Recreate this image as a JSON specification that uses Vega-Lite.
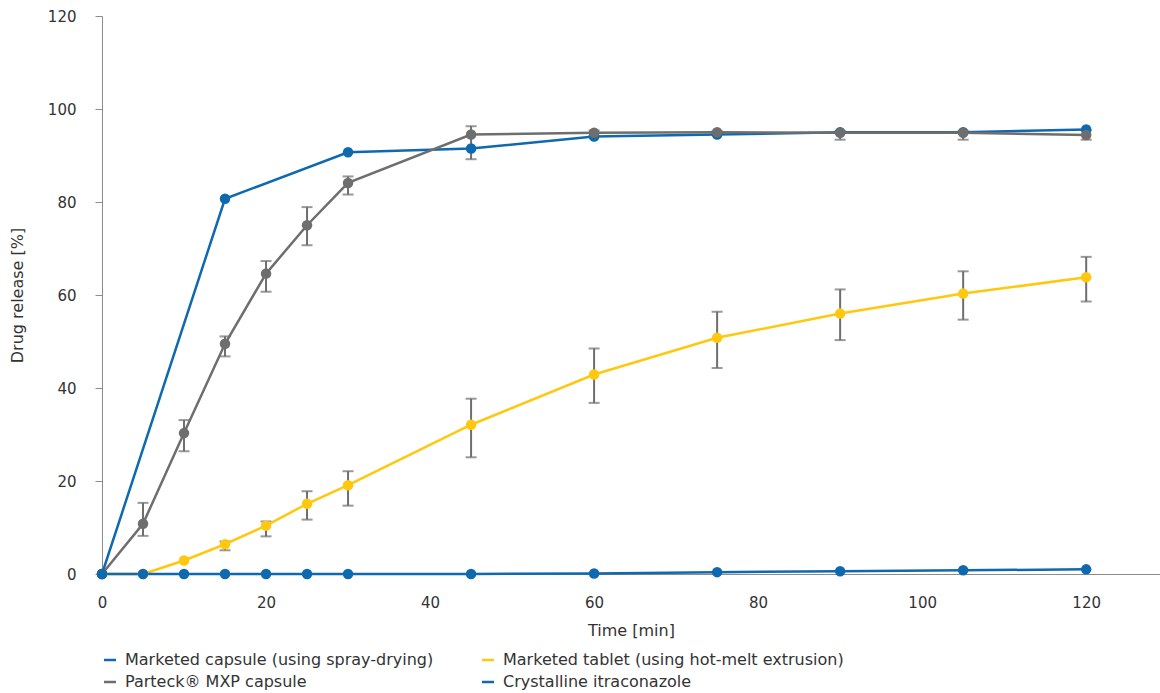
{
  "$schema": "https://vega.github.io/schema/vega-lite/v6.json",
  "width": 1058,
  "height": 558,
  "autosize": "none",
  "padding": {"left": 102, "top": 16, "right": 0, "bottom": 119},
  "config": {
    "font": "DejaVu Sans",
    "view": {"stroke": null},
    "axis": {"labelFontSize": 15, "titleFontSize": 16, "labelColor": "#333333", "titleColor": "#333333", "titleFontWeight": "normal", "domainColor": "#8c8c8c", "tickColor": "#8c8c8c", "grid": false, "labelFlush": false, "labelOverlap": false},
    "legend": {"labelFontSize": 16, "labelColor": "#333333"}
  },
  "data": {
    "values": [
      {"series": "Marketed tablet (using hot-melt extrusion)", "time": 0, "value": 0},
      {"series": "Marketed tablet (using hot-melt extrusion)", "time": 5, "value": 0},
      {"series": "Marketed tablet (using hot-melt extrusion)", "time": 10, "value": 2.9},
      {"series": "Marketed tablet (using hot-melt extrusion)", "time": 15, "value": 6.4, "lo": 5.1, "hi": 7.0},
      {"series": "Marketed tablet (using hot-melt extrusion)", "time": 20, "value": 10.4, "lo": 8.1, "hi": 11.3},
      {"series": "Marketed tablet (using hot-melt extrusion)", "time": 25, "value": 15.1, "lo": 11.7, "hi": 17.8},
      {"series": "Marketed tablet (using hot-melt extrusion)", "time": 30, "value": 19.1, "lo": 14.7, "hi": 22.1},
      {"series": "Marketed tablet (using hot-melt extrusion)", "time": 45, "value": 32.1, "lo": 25.1, "hi": 37.7},
      {"series": "Marketed tablet (using hot-melt extrusion)", "time": 60, "value": 42.9, "lo": 36.8, "hi": 48.5},
      {"series": "Marketed tablet (using hot-melt extrusion)", "time": 75, "value": 50.8, "lo": 44.3, "hi": 56.4},
      {"series": "Marketed tablet (using hot-melt extrusion)", "time": 90, "value": 56.0, "lo": 50.3, "hi": 61.2},
      {"series": "Marketed tablet (using hot-melt extrusion)", "time": 105, "value": 60.3, "lo": 54.7, "hi": 65.1},
      {"series": "Marketed tablet (using hot-melt extrusion)", "time": 120, "value": 63.8, "lo": 58.6, "hi": 68.2},
      {"series": "Marketed capsule (using spray-drying)", "time": 0, "value": 0},
      {"series": "Marketed capsule (using spray-drying)", "time": 15, "value": 80.7},
      {"series": "Marketed capsule (using spray-drying)", "time": 30, "value": 90.7},
      {"series": "Marketed capsule (using spray-drying)", "time": 45, "value": 91.5},
      {"series": "Marketed capsule (using spray-drying)", "time": 60, "value": 94.1},
      {"series": "Marketed capsule (using spray-drying)", "time": 75, "value": 94.5},
      {"series": "Marketed capsule (using spray-drying)", "time": 90, "value": 95.0},
      {"series": "Marketed capsule (using spray-drying)", "time": 105, "value": 95.0},
      {"series": "Marketed capsule (using spray-drying)", "time": 120, "value": 95.6},
      {"series": "Parteck® MXP capsule", "time": 0, "value": 0},
      {"series": "Parteck® MXP capsule", "time": 5, "value": 10.8, "lo": 8.2, "hi": 15.3},
      {"series": "Parteck® MXP capsule", "time": 10, "value": 30.3, "lo": 26.4, "hi": 33.1},
      {"series": "Parteck® MXP capsule", "time": 15, "value": 49.5, "lo": 46.8, "hi": 51.1},
      {"series": "Parteck® MXP capsule", "time": 20, "value": 64.6, "lo": 60.7, "hi": 67.3},
      {"series": "Parteck® MXP capsule", "time": 25, "value": 75.0, "lo": 70.7, "hi": 78.9},
      {"series": "Parteck® MXP capsule", "time": 30, "value": 84.1, "lo": 81.6, "hi": 85.5},
      {"series": "Parteck® MXP capsule", "time": 45, "value": 94.5, "lo": 89.2, "hi": 96.3},
      {"series": "Parteck® MXP capsule", "time": 60, "value": 94.9, "lo": 94.3, "hi": 95.4},
      {"series": "Parteck® MXP capsule", "time": 75, "value": 95.0, "lo": 94.6, "hi": 95.3},
      {"series": "Parteck® MXP capsule", "time": 90, "value": 94.9, "lo": 93.4, "hi": 95.3},
      {"series": "Parteck® MXP capsule", "time": 105, "value": 94.9, "lo": 93.4, "hi": 95.3},
      {"series": "Parteck® MXP capsule", "time": 120, "value": 94.4, "lo": 93.4, "hi": 95.4},
      {"series": "Crystalline itraconazole", "time": 0, "value": 0},
      {"series": "Crystalline itraconazole", "time": 5, "value": 0},
      {"series": "Crystalline itraconazole", "time": 10, "value": 0},
      {"series": "Crystalline itraconazole", "time": 15, "value": 0},
      {"series": "Crystalline itraconazole", "time": 20, "value": 0},
      {"series": "Crystalline itraconazole", "time": 25, "value": 0},
      {"series": "Crystalline itraconazole", "time": 30, "value": 0},
      {"series": "Crystalline itraconazole", "time": 45, "value": 0},
      {"series": "Crystalline itraconazole", "time": 60, "value": 0.1},
      {"series": "Crystalline itraconazole", "time": 75, "value": 0.4},
      {"series": "Crystalline itraconazole", "time": 90, "value": 0.6},
      {"series": "Crystalline itraconazole", "time": 105, "value": 0.8},
      {"series": "Crystalline itraconazole", "time": 120, "value": 1.0}
    ]
  },
  "encoding": {
    "x": {
      "field": "time", "type": "quantitative",
      "scale": {"domain": [0, 129], "nice": false, "zero": false},
      "axis": {"title": "Time [min]", "values": [0, 20, 40, 60, 80, 100, 120], "ticks": false, "tickSize": 0, "labelPadding": 21, "titlePadding": 12}
    }
  },
  "layer": [
    {
      "transform": [{"filter": "isValid(datum.lo)"}],
      "mark": {"type": "rule", "color": "#6e6e6e", "strokeWidth": 2},
      "encoding": {
        "y": {
          "field": "lo", "type": "quantitative",
          "scale": {"domain": [0, 120], "nice": false},
          "axis": {"title": "Drug release [%]", "values": [0, 20, 40, 60, 80, 100, 120], "tickSize": 7, "labelPadding": 19, "titlePadding": 22}
        },
        "y2": {"field": "hi"}
      }
    },
    {
      "transform": [{"filter": "isValid(datum.lo)"}],
      "mark": {"type": "tick", "orient": "horizontal", "color": "#6e6e6e", "size": 11, "thickness": 2},
      "encoding": {"y": {"field": "lo", "type": "quantitative"}}
    },
    {
      "transform": [{"filter": "isValid(datum.hi)"}],
      "mark": {"type": "tick", "orient": "horizontal", "color": "#6e6e6e", "size": 11, "thickness": 2},
      "encoding": {"y": {"field": "hi", "type": "quantitative"}}
    },
    {
      "mark": {"type": "line", "strokeWidth": 2.5},
      "encoding": {
        "y": {"field": "value", "type": "quantitative"},
        "color": {
          "field": "series", "type": "nominal",
          "scale": {
            "domain": ["Marketed capsule (using spray-drying)", "Marketed tablet (using hot-melt extrusion)", "Parteck® MXP capsule", "Crystalline itraconazole"],
            "range": ["#0f69af", "#ffc80f", "#6e6e6e", "#0f69af"]
          },
          "legend": {
            "title": null, "orient": "none", "legendX": 0, "legendY": 636, "direction": "horizontal", "columns": 2,
            "symbolType": "stroke", "symbolSize": 144, "symbolStrokeWidth": 2.5, "labelOffset": 7,
            "columnPadding": 43, "rowPadding": 6, "labelLimit": 500
          }
        }
      }
    },
    {
      "mark": {"type": "point", "filled": true, "opacity": 1, "size": 110, "shape": "circle"},
      "encoding": {
        "y": {"field": "value", "type": "quantitative"},
        "color": {"field": "series", "type": "nominal"}
      }
    }
  ]
}
